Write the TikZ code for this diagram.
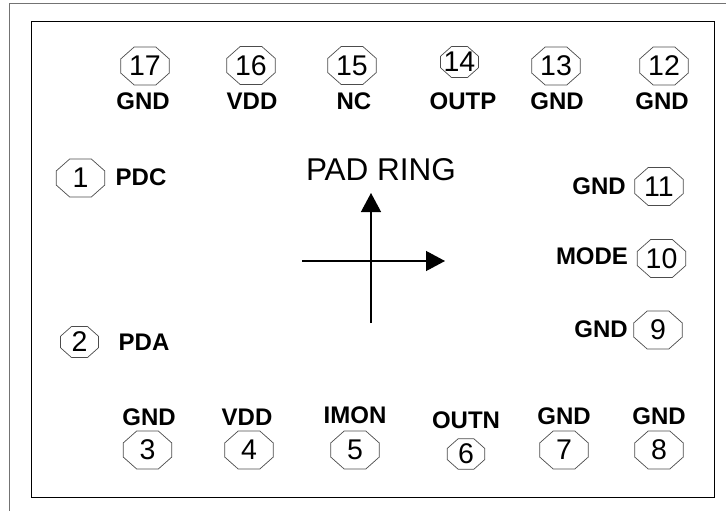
\documentclass[tikz,border=0pt]{standalone}
\usepackage{fontspec}
\setmainfont{Liberation Sans}
\usetikzlibrary{arrows.meta}
\tikzset{
  padnum/.style={inner sep=0pt,font=\fontsize{28.5}{28.5}\selectfont},
  padedge/.style={draw=black!70,line width=0.7pt,line join=miter},
  padlabel/.style={font=\bfseries\fontsize{24}{24}\selectfont,inner sep=0pt,anchor=center},
  frame/.style={draw=black,line width=0.8pt},
  outerframe/.style={draw=black!55,line width=1pt},
  axis/.style={draw=black,line width=1.3pt,-{Triangle[length=19pt,width=20pt]}}
}
\newcommand{\octagon}[4]{%
  \draw[padedge,shift={(#1,#2)}] (-#3+#4*0.71,-#4) -- (#3-#4*0.71,-#4) -- (#3,-#4*0.37) -- (#3,#4*0.37) -- (#3-#4*0.71,#4) -- (-#3+#4*0.71,#4) -- (-#3,#4*0.37) -- (-#3,-#4*0.37) -- cycle;}
\begin{document}
\begin{tikzpicture}[x=1pt,y=-1pt]
\useasboundingbox (0,0) rectangle (726,511);
\draw[outerframe] (9,511) -- (9,4) -- (726,4);
\draw[frame] (31,21.5) rectangle (714.5,497);
\foreach \n/\x/\y/\w/\h/\t in {p17/145/66/24.3/19/17,p16/251/65.5/24.3/19/16,p15/352/65.5/24.3/19/15,p14/459.5/62/19/15.5/14,p13/556/66/24.3/19/13,p12/664/66/24.3/19/12,
  p1/80.5/178/24.3/19/1,p2/79.5/342/19/15.5/2,p11/659/186.5/24.3/19/11,p10/661.5/258.5/24.3/19/10,p9/658/330/24.3/19/9,
  p3/147.5/450/24.3/19/3,p4/249/450/24.3/19/4,p5/355/450/24.3/19/5,p6/466/454/18.7/15.2/6,p7/564/450/24.3/19/7,p8/659/450/24.3/19/8}
  {\octagon{\x}{\y}{\w}{\h}
   \node[padnum] (\n) at (\x,\y) {\t};}
\foreach \n/\x/\y/\t in {l17/143/101/GND,l16/252/101/VDD,l15/354/101/NC,l14/463/101/OUTP,l13/557/101/GND,l12/662/101/GND,
  l1/141/177.5/PDC,l2/144/342.5/PDA,l11/599/186.5/GND,l10/592/256/MODE,l9/601/329.5/GND,
  l3/149/417/GND,l4/247/417/VDD,l5/355/415.5/IMON,l6/466/420.5/OUTN,l7/564/416/GND,l8/659/416/GND}
  \node[padlabel] (\n) at (\x,\y) {\t};
\node[font=\fontsize{31.5}{31.5}\selectfont,inner sep=0pt] (title) at (381,170) {PAD RING};
\coordinate (xa) at (302,261); \coordinate (xb) at (445,261);
\coordinate (ya) at (371,323); \coordinate (yb) at (371,193);
\draw[axis] (xa) -- (xb);
\draw[axis] (ya) -- (yb);
\end{tikzpicture}
\end{document}
